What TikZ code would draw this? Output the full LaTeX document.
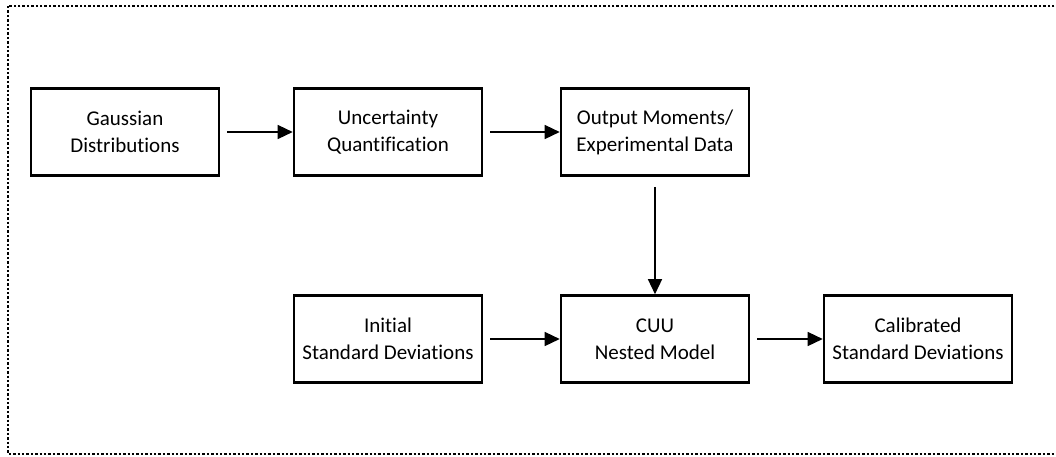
\documentclass[tikz,border=0pt]{standalone}
\usepackage{fontspec}
\setmainfont{Carlito}[Ligatures=NoCommon]
\usetikzlibrary{arrows.meta}
\begin{document}
\begin{tikzpicture}[x=1pt,y=-1pt,
  block/.style={draw, line width=2.6pt, minimum width=188pt, minimum height=87pt,
    align=center, inner sep=2pt, font=\fontsize{21}{27}\selectfont},
  flow/.style={line width=1.4pt, -{Triangle[length=15pt,width=14pt]}, shorten <=7pt}]
  \useasboundingbox (0,0) rectangle (1056,456);
  \clip (0,0) rectangle (1056,456);
  % dotted frame (right side runs off the page)
  \draw[line width=2.4pt, dash pattern=on 2.4pt off 2pt] (8,6) rectangle (1060,454);

  % upper row
  \node[block] (gauss) at (125,132) {Gaussian\\Distributions};
  \node[block] (uq)    at (388,132) {Uncertainty\\Quantification};
  \node[block] (out)   at (655,132) {Output Moments/\\Experimental Data};

  % lower row
  \node[block] (init)  at (388,339) {Initial\\Standard Deviations};
  \node[block] (cuu)   at (655,339) {CUU\\Nested Model};
  \node[block] (cal)   at (918,339) {Calibrated\\Standard Deviations};

  % connectors
  \draw[flow] (gauss.east) -- (uq.west);
  \draw[flow] (uq.east) -- (out.west);
  \draw[flow, shorten <=10pt] (out.south) -- (cuu.north);
  \draw[flow] (init.east) -- (cuu.west);
  \draw[flow] (cuu.east) -- (cal.west);
\end{tikzpicture}
\end{document}
